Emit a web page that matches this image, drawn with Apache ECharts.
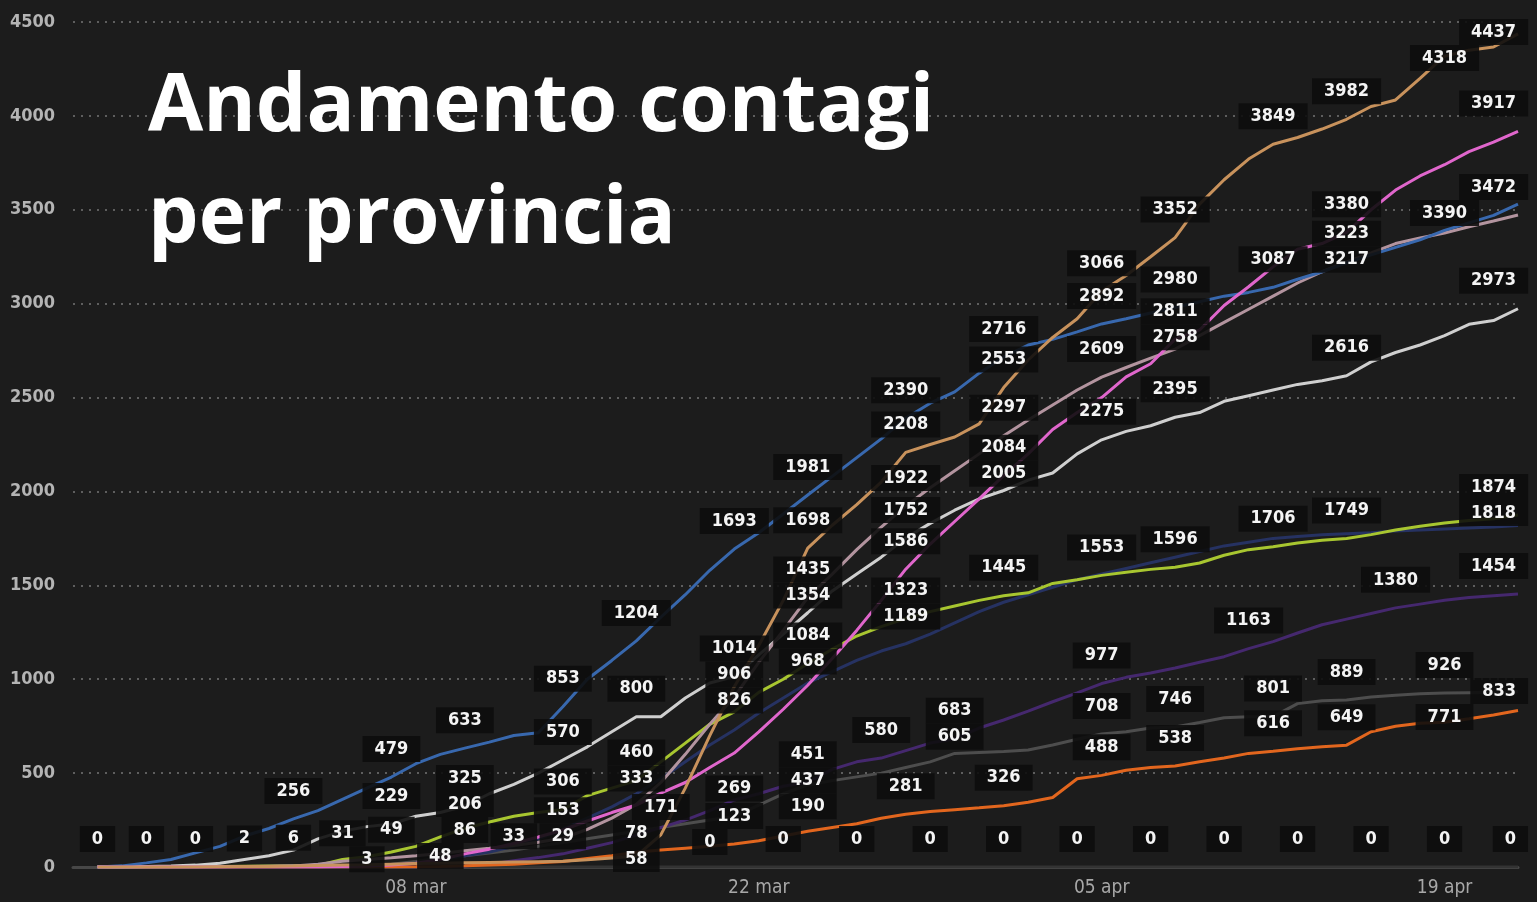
<!DOCTYPE html>
<html>
<head>
<meta charset="utf-8">
<title>Andamento contagi per provincia</title>
<script src="https://cdn.jsdelivr.net/npm/echarts@6/dist/echarts.min.js"></script>
<style>
  html, body { margin: 0; padding: 0; background: #1c1c1c; }
  #fig_contagi { width: 1537px; height: 902px; }
</style>
</head>
<body>
<div id="fig_contagi"></div>
<script>
// days on the x axis, 24 feb - 22 apr
var days = [
    '24 feb', '25 feb', '26 feb', '27 feb', '28 feb', '29 feb',
    '01 mar', '02 mar', '03 mar', '04 mar', '05 mar', '06 mar', '07 mar', '08 mar', '09 mar', '10 mar',
    '11 mar', '12 mar', '13 mar', '14 mar', '15 mar', '16 mar', '17 mar', '18 mar', '19 mar', '20 mar',
    '21 mar', '22 mar', '23 mar', '24 mar', '25 mar', '26 mar', '27 mar', '28 mar', '29 mar', '30 mar', '31 mar',
    '01 apr', '02 apr', '03 apr', '04 apr', '05 apr', '06 apr', '07 apr', '08 apr', '09 apr', '10 apr',
    '11 apr', '12 apr', '13 apr', '14 apr', '15 apr', '16 apr', '17 apr', '18 apr', '19 apr', '20 apr',
    '21 apr', '22 apr'
];
var tick_labels = ['08 mar', '22 mar', '05 apr', '19 apr'];

// cumulative cases, one value per day
var reggio_emilia = [0, 0, 0, 0, 0, 1, 2, 3, 5, 8, 10, 12, 15, 18, 20, 22, 24, 26, 28, 30,
    38, 48, 58, 171, 420, 700, 960, 1180, 1420, 1698, 1820, 1930, 2050, 2208, 2250, 2290, 2360, 2553,
    2700, 2820, 2920, 3066, 3150, 3250, 3352, 3530, 3660, 3770, 3849, 3885, 3930, 3982, 4050, 4085,
    4200, 4318, 4350, 4367, 4437];
var modena = [0, 0, 0, 0, 0, 0, 0, 0, 0, 0, 2, 5, 10, 20, 40, 70, 95, 125, 160, 197,
    245, 290, 330, 394, 450, 530, 607, 720, 840, 968, 1110, 1260, 1420, 1586, 1720, 1840, 1960, 2084,
    2200, 2330, 2420, 2500, 2610, 2680, 2811, 2860, 2990, 3090, 3196, 3290, 3320, 3380, 3500, 3605,
    3680, 3740, 3810, 3860, 3917];
var piacenza = [0, 6, 22, 40, 75, 110, 165, 205, 256, 300, 360, 420, 479, 550, 600, 633, 665, 700, 715, 853,
    1000, 1100, 1204, 1330, 1450, 1580, 1693, 1780, 1880, 1981, 2080, 2180, 2280, 2390, 2470, 2530, 2630, 2716,
    2780, 2810, 2850, 2892, 2920, 2950, 2980, 3010, 3040, 3060, 3087, 3130, 3170, 3217, 3260, 3300,
    3340, 3390, 3430, 3470, 3530];
var bologna = [0, 0, 0, 0, 0, 1, 2, 4, 6, 15, 31, 40, 49, 60, 72, 86, 100, 115, 132, 153,
    200, 260, 333, 450, 600, 760, 906, 1090, 1260, 1435, 1560, 1690, 1810, 1922, 2020, 2110, 2200, 2297,
    2380, 2460, 2540, 2609, 2660, 2710, 2758, 2830, 2900, 2970, 3040, 3110, 3170, 3223, 3270, 3320,
    3350, 3376, 3410, 3440, 3472];
var parma = [0, 0, 2, 5, 10, 20, 40, 60, 90, 150, 190, 215, 229, 270, 290, 325, 390, 440, 500, 570,
    640, 720, 800, 800, 900, 980, 1014, 1130, 1240, 1354, 1470, 1560, 1650, 1752, 1830, 1900, 1960, 2005,
    2060, 2098, 2200, 2275, 2320, 2350, 2395, 2420, 2480, 2510, 2540, 2570, 2590, 2616, 2690, 2740,
    2780, 2830, 2890, 2910, 2973];
var rimini = [0, 0, 0, 1, 2, 3, 4, 5, 6, 8, 40, 55, 80, 110, 160, 206, 240, 270, 290, 306,
    380, 420, 460, 560, 660, 760, 826, 930, 1000, 1084, 1160, 1230, 1280, 1323, 1360, 1390, 1420, 1445,
    1460, 1510, 1530, 1553, 1570, 1585, 1596, 1619, 1660, 1690, 1706, 1725, 1740, 1749, 1770, 1795,
    1815, 1832, 1845, 1855, 1874];
var forli_cesena = [0, 0, 0, 0, 0, 0, 0, 0, 0, 0, 0, 0, 10, 20, 40, 60, 80, 110, 150, 200,
    260, 320, 390, 470, 560, 650, 730, 820, 900, 980, 1040, 1100, 1150, 1189, 1240, 1300, 1360, 1410,
    1450, 1490, 1530, 1560, 1590, 1620, 1650, 1680, 1710, 1730, 1750, 1760, 1770, 1775, 1780, 1790,
    1795, 1800, 1805, 1810, 1818];
var ravenna = [0, 0, 0, 0, 0, 0, 0, 0, 0, 0, 0, 0, 0, 0, 0, 5, 15, 33, 50, 70,
    100, 130, 170, 210, 250, 300, 357, 390, 430, 451, 520, 560, 580, 620, 660, 683, 740, 783,
    830, 880, 927, 977, 1010, 1033, 1060, 1090, 1120, 1163, 1200, 1246, 1290, 1320, 1350, 1380,
    1400, 1420, 1435, 1445, 1454];
var imola = [0, 0, 0, 0, 0, 0, 0, 0, 0, 0, 0, 3, 15, 30, 48, 60, 75, 90, 110, 130,
    150, 170, 190, 210, 230, 250, 269, 330, 390, 437, 460, 480, 500, 530, 560, 605, 610, 615,
    623, 650, 680, 708, 720, 740, 746, 770, 795, 800, 801, 870, 885, 889, 905, 915,
    922, 926, 928, 930, 935];
var ferrara = [0, 0, 0, 0, 0, 0, 0, 0, 0, 0, 0, 0, 0, 1, 3, 6, 10, 15, 22, 29,
    45, 60, 78, 90, 100, 110, 123, 140, 165, 190, 210, 230, 260, 281, 295, 305, 315, 326,
    345, 370, 470, 488, 515, 530, 538, 560, 580, 605, 616, 630, 640, 649, 720, 750,
    765, 771, 790, 810, 833];
var fuori_regione = [0, 0, 0, 0, 0, 0, 0, 0, 0, 0, 0, 0, 0, 0, 0, 0, 0, 0, 0, 0,
    0, 0, 0, 0, 0, 0, 0, 0, 0, 0, 0, 0, 0, 0, 0, 0, 0, 0,
    0, 0, 0, 0, 0, 0, 0, 0, 0, 0, 0, 0, 0, 0, 0, 0,
    0, 0, 0, 0, 0];

// days (index into days) that carry a value box
var reggio_emilia_labels = [22, 23, 29, 33, 37, 41, 44, 48, 51, 55, 58];
var modena_labels = [29, 33, 37, 44, 51, 58];
var piacenza_labels = [8, 12, 15, 19, 22, 26, 29, 33, 37, 41, 44, 48, 51, 55];
var bologna_labels = [0, 2, 4, 6, 8, 10, 12, 15, 19, 22, 26, 29, 33, 37, 41, 44, 51, 58];
var parma_labels = [12, 15, 19, 22, 26, 29, 33, 37, 41, 44, 51, 58];
var rimini_labels = [15, 19, 22, 26, 29, 33, 37, 41, 44, 48, 51, 58];
var forli_cesena_labels = [33, 58];
var ravenna_labels = [17, 29, 32, 35, 41, 47, 53, 58];
var imola_labels = [11, 14, 26, 29, 35, 41, 44, 48, 51, 55];
var ferrara_labels = [19, 22, 26, 29, 33, 37, 41, 44, 48, 51, 55, 58];
var fuori_regione_labels = [25, 28, 31, 34, 37, 40, 43, 46, 49, 52, 55, 58];

// drawing order: dim lines first, bright ones on top
var provinces = [
    {name: 'Fuori regione', color: '#333333', data: fuori_regione, labels: fuori_regione_labels},
    {name: 'Imola', color: '#4d4d4d', data: imola, labels: imola_labels},
    {name: 'Ravenna', color: '#45286e', data: ravenna, labels: ravenna_labels},
    {name: 'Forli-Cesena', color: '#263262', data: forli_cesena, labels: forli_cesena_labels},
    {name: 'Ferrara', color: '#e2661e', data: ferrara, labels: ferrara_labels},
    {name: 'Rimini', color: '#a8c630', data: rimini, labels: rimini_labels},
    {name: 'Parma', color: '#cfcfcf', data: parma, labels: parma_labels},
    {name: 'Bologna', color: '#b3949f', data: bologna, labels: bologna_labels},
    {name: 'Piacenza', color: '#3868ae', data: piacenza, labels: piacenza_labels},
    {name: 'Modena', color: '#e066cc', data: modena, labels: modena_labels},
    {name: 'Reggio Emilia', color: '#c8925c', data: reggio_emilia, labels: reggio_emilia_labels}
];

var LABEL_FONT = '"DejaVu Sans Condensed", "DejaVu Sans", sans-serif';
var LABEL_H = 26;
var LABEL_RISE = 27;   // box centre sits this far above the point

var fig_contagi = {
    plot_id: 'fig_contagi',
    plot_chart: null,
    option: null,

    make_series: function(p) {
        // first category is an empty slot so the grid starts one day early
        var data = [null];
        p.data.forEach(function(v, i) {
            if (p.labels.indexOf(i) >= 0) {
                data.push({value: v, label: {show: true}});
            } else {
                data.push(v);
            }
        });
        return {
            name: p.name,
            type: 'line',
            data: data,
            // labels hang on the symbols, so keep them but paint them clear
            symbol: 'circle',
            symbolSize: 2,
            showSymbol: true,
            showAllSymbol: true,
            silent: true,
            lineStyle: {color: p.color, width: 3},
            itemStyle: {color: 'rgba(0,0,0,0)'},
            emphasis: {disabled: true},
            label: {
                show: false,
                position: 'top',
                distance: LABEL_RISE - LABEL_H / 2,
                color: '#f4f4f4',
                fontFamily: LABEL_FONT,
                fontWeight: 'bold',
                fontSize: 18,
                lineHeight: 18,
                backgroundColor: 'rgba(13,13,13,0.9)',
                padding: [4, 12, 4, 12]
            }
        };
    },

    init: function() {
        this.option = {
            backgroundColor: '#1c1c1c',
            animation: false,
            title: {
                text: 'Andamento contagi\nper provincia',
                left: 143,
                top: 47,
                textStyle: {
                    color: '#ffffff',
                    fontFamily: '"Open Sans"',
                    fontWeight: 'bold',
                    fontSize: 80,
                    lineHeight: 112
                }
            },
            grid: {
                top: 22,
                right: 19,
                bottom: 35,
                left: 73
            },
            xAxis: {
                type: 'category',
                boundaryGap: false,
                data: [''].concat(days),
                axisLine: {lineStyle: {color: '#474747', width: 3}},
                axisTick: {show: false},
                axisLabel: {
                    interval: function(index, value) {
                        return tick_labels.indexOf(value) >= 0;
                    },
                    color: '#a8a8a8',
                    fontFamily: LABEL_FONT,
                    fontSize: 19,
                    margin: 12
                },
                splitLine: {show: false}
            },
            yAxis: {
                type: 'value',
                min: 0,
                max: 4500,
                interval: 500,
                axisLine: {show: false},
                axisTick: {show: false},
                axisLabel: {
                    formatter: function(v) { return String(v); },
                    color: '#b4b4b4',
                    fontFamily: LABEL_FONT,
                    fontWeight: 'bold',
                    fontSize: 18,
                    margin: 18
                },
                splitLine: {
                    lineStyle: {color: '#5e5e5e', width: 2, type: [2, 6]}
                }
            },
            series: provinces.map(this.make_series)
        };

        this.plot_chart = echarts.init(document.getElementById(this.plot_id));
        this.plot_chart.setOption(this.option);
        this.nudge_labels();
    },

    // push value boxes down where they would cover each other
    nudge_labels: function() {
        var chart = this.plot_chart;
        var top_limit = 22 + LABEL_H / 2 - 2;
        var boxes = [];
        this.option.series.forEach(function(s, si) {
            s.data.forEach(function(d, i) {
                if (d === null || typeof d !== 'object') {
                    return;
                }
                var p = chart.convertToPixel({seriesIndex: si}, [i, d.value]);
                var w = String(d.value).length * 11.2 + 24;
                // keep the last column inside the plot
                var dx = (i === s.data.length - 1) ? -(w / 2 - 10) : 0;
                var want = p[1] - LABEL_RISE;
                boxes.push({item: d, x: p[0] + dx, dx: dx, want: want, y: Math.max(want, top_limit), w: w});
            });
        });
        // highest point first, the rest slide underneath
        boxes.sort(function(a, b) { return a.want - b.want; });

        var placed = [];
        boxes.forEach(function(b) {
            var moved = true;
            while (moved) {
                moved = false;
                placed.forEach(function(o) {
                    if (Math.abs(o.x - b.x) < (o.w + b.w) / 2 && Math.abs(o.y - b.y) < LABEL_H) {
                        b.y = o.y + LABEL_H;
                        moved = true;
                    }
                });
            }
            placed.push(b);
            b.item.label.offset = [b.dx, b.y - b.want];
        });
        chart.setOption(this.option);
    }
};

fig_contagi.init();
</script>
</body>
</html>
